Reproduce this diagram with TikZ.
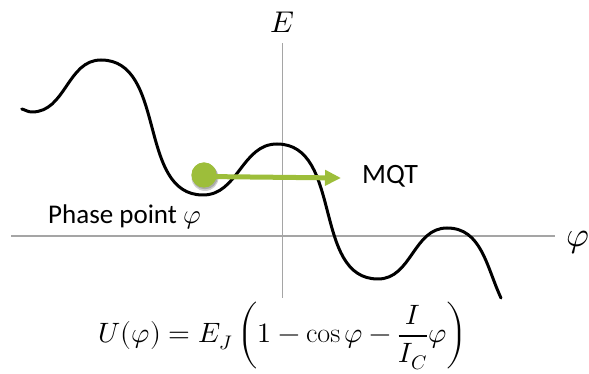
\documentclass[tikz,border=0pt]{standalone}
\usepackage{unicode-math}
\setmathfont{Latin Modern Math}
\newfontfamily\calibri{Carlito}
\usetikzlibrary{arrows.meta}
\definecolor{ballgreen}{RGB}{157,190,58}
\definecolor{axisgray}{RGB}{165,165,165}
\begin{document}
\begin{tikzpicture}[x=1pt,y=1pt,
  axis/.style={draw=axisgray,line width=1.1pt},
  wash/.style={draw=black,line width=3pt},
  mqtarrow/.style={draw=ballgreen,line width=5pt,-{Triangle[length=16pt,width=15pt]}},
  lbl/.style={inner sep=0pt,font=\calibri\fontsize{28}{30}\selectfont},
  mathlbl/.style={inner sep=0pt,font=\fontsize{30}{32}\selectfont}]
\useasboundingbox (0,0) rectangle (589,374);
% axes
\coordinate (vtop) at (282.7,331);
\coordinate (vbot) at (282.7,76);
\coordinate (hleft) at (11,138);
\coordinate (hright) at (555,138);
\draw[axis] (vbot) -- (vtop);
\draw[axis] (hleft) -- (hright);
\node[mathlbl] (E) at (282.5,352) {$E$};
\node[mathlbl,font=\fontsize{35}{38}\selectfont] (phi) at (578,131) {$\varphi$};
% washboard potential
\coordinate (p0) at (21.8,265);
\coordinate (p1) at (32,262);
\coordinate (p2) at (101,314);
\coordinate (p3) at (203,179);
\coordinate (p4) at (277,230);
\coordinate (p5) at (378,95);
\coordinate (p6) at (447,146);
\coordinate (p7) at (501,76);
\draw[wash,line cap=round] (p0) to[out=-15,in=180] (p1) to[out=0,in=180] (p2)
  to[out=0,in=180] (p3) to[out=0,in=180] (p4) to[out=0,in=180] (p5)
  to[out=0,in=180] (p6) to[out=0,in=115] (p7);
% arrow and ball
\coordinate (tip) at (341,196);
\fill[black,opacity=0.18] (205,196.5) circle (13.5pt);
\fill[black,opacity=0.18] (205,197.5) circle (12.8pt);
\node[circle,fill=ballgreen,minimum size=25pt,inner sep=0pt] (ball) at (204,199) {};
\draw[mqtarrow] ([yshift=-1.5pt]ball.center) -- (tip);
\node[circle,fill=ballgreen,minimum size=25pt,inner sep=0pt] (ballfront) at (ball.center) {};
\node[lbl,anchor=base west] (mqt) at (362,190) {MQT};
\node[lbl,font=\calibri\fontsize{27}{30}\selectfont,anchor=base west] (phase) at (48,150) {Phase point $\varphi$};
\node[inner sep=0pt,anchor=base,font=\fontsize{28}{32}\selectfont] (formula) at (283,31)
  {$U(\varphi) = E_J \left(1-\cos\varphi-{\displaystyle\frac{I}{I_C}}\varphi\right)$};
\end{tikzpicture}
\end{document}
